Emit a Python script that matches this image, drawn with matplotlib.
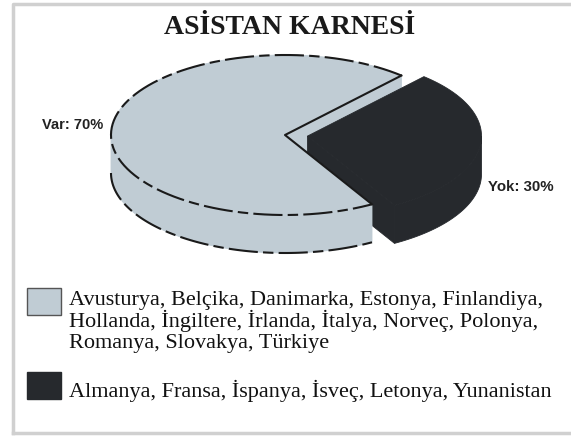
import numpy as np
import matplotlib
matplotlib.use('Agg')
import matplotlib.pyplot as plt
from matplotlib.patches import Polygon, Rectangle

# data
labels = ['Var', 'Yok']
values = [70, 30]
explode = [0.0, 0.13]
colors = ['#c0ccd4', '#26292d']
legend_lines = [
    ['Avusturya, Belçika, Danimarka, Estonya, Finlandiya,',
     'Hollanda, İngiltere, İrlanda, İtalya, Norveç, Polonya,',
     'Romanya, Slovakya, Türkiye'],
    ['Almanya, Fransa, İspanya, İsveç, Letonya, Yunanistan'],
]
title = 'ASİSTAN KARNESİ'

# pie geometry (pixels)
cx, cy = 285, 135
rx, ry = 174, 80
depth = 38
start = 48

fig = plt.figure(figsize=(5.71, 4.37), dpi=100)
ax = fig.add_axes([0, 0, 1, 1])
ax.set_xlim(0, 571)
ax.set_ylim(437, 0)
ax.axis('off')


def pt(ox, oy, th, dz=0):
    t = np.radians(th)
    return ox + rx * np.cos(t), oy - ry * np.sin(t) + dz


fracs = np.array(values) / np.sum(values)
a0 = start
dash = (0, (14, 2.5, 5, 2.5))
for i, f in enumerate(fracs):
    a1 = a0 + 360 * f
    mid = np.radians((a0 + a1) / 2)
    ox = cx + explode[i] * rx * np.cos(mid)
    oy = cy - explode[i] * ry * np.sin(mid)
    col = colors[i]
    # radial side faces (drawn first, under all tops)
    for a, vis in [(a0, np.cos(np.radians(a0)) > 0), (a1, np.cos(np.radians(a1)) < 0)]:
        if vis:
            x, y = pt(ox, oy, a)
            ax.add_patch(Polygon([(ox, oy), (x, y), (x, y + depth), (ox, oy + depth)],
                                 closed=True, fc=col, ec=col, lw=0.6, zorder=2 + 0.1 * i))
    # outer wall (front half only)
    for k in range(-1, 2):
        lo = max(a0, 180 + 360 * k)
        hi = min(a1, 360 + 360 * k)
        if hi > lo:
            th = np.linspace(lo, hi, 100)
            xs, ys = pt(ox, oy, th)
            poly = np.column_stack([np.r_[xs, xs[::-1]], np.r_[ys, ys[::-1] + depth]])
            ax.add_patch(Polygon(poly, closed=True, fc=col, ec=col, lw=0.6, zorder=4))
            if i == 0:
                ax.plot(xs, ys + depth, color='#1a1a1a', lw=1.5, ls=dash, zorder=6)
    # top face
    th = np.linspace(a0, a1, 200)
    xs, ys = pt(ox, oy, th)
    ax.add_patch(Polygon(np.column_stack([np.r_[ox, xs], np.r_[oy, ys]]),
                         closed=True, fc=col, ec=col, lw=0.6, zorder=5))
    if i == 0:
        ax.plot(xs, ys, color='#1a1a1a', lw=1.5, ls=dash, zorder=6)
        ax.plot([xs[0], ox, xs[-1]], [ys[0], oy, ys[-1]], color='#1a1a1a', lw=1.5,
                zorder=6)
    # label
    lab = '%s: %d%%' % (labels[i], values[i])
    if i == 0:
        ax.text(cx - rx - 8, 125, lab, ha='right', va='center', fontsize=10.5,
                fontweight='bold', family='Liberation Sans', color='#222222')
    else:
        ax.text(ox + rx + 7, 187, lab, ha='left', va='center', fontsize=10.8,
                fontweight='bold', family='Liberation Sans', color='#222222')
    a0 = a1

# title
ax.text(290, 27, title, ha='center', va='center', fontsize=20, fontweight='bold',
        family='Liberation Serif', color='#1a1a1a')

# legend
leg_y = [288, 372]
base_y = [305, 397]
for i, lines in enumerate(legend_lines):
    ax.add_patch(Rectangle((27, leg_y[i]), 34, 27, fc=colors[i],
                           ec='#555555' if i == 0 else colors[i], lw=1))
    for j, line in enumerate(lines):
        ax.text(69, base_y[i] + 21.5 * j, line, ha='left', va='baseline', fontsize=16,
                family='Liberation Serif', color='#111111')

# frame
ax.plot([13, 13, 575], [433, 4, 4], color='#d0d0d0', lw=2.5, clip_on=False)
ax.plot([13, 575], [433, 433], color='#d0d0d0', lw=2.5, clip_on=False)

fig.savefig('out.png', dpi=100)
